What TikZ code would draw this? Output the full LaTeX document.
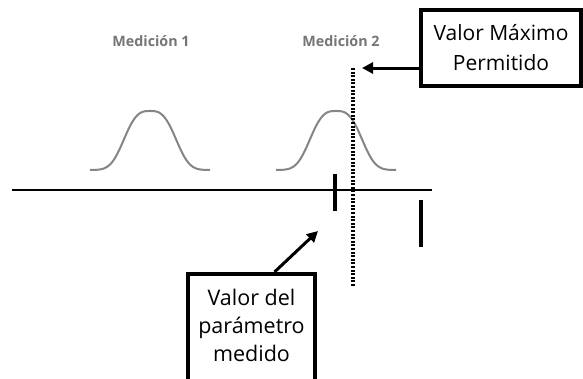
\documentclass[tikz,border=0pt]{standalone}
\usepackage{fontspec}
\setmainfont{Open Sans}
\usetikzlibrary{arrows.meta}
\definecolor{curvegray}{HTML}{858585}
\definecolor{labelgray}{HTML}{757575}
\begin{document}
\begin{tikzpicture}[x=1pt,y=-1pt,
  box/.style={draw=black,line width=3.5pt,fill=white,align=center,inner sep=0pt,
    font=\fontsize{21}{30}\selectfont},
  meas/.style={text=labelgray,font=\bfseries\fontsize{14.3}{16}\selectfont},
  bell/.style={draw=curvegray,line width=2pt},
  callout/.style={line width=3pt,-{Triangle[length=11pt,width=11pt]}},
  tick/.style={line width=4pt},
  limit/.style={line width=4pt,dash pattern=on 2pt off 1.6pt}]
\clip (0,0) rectangle (583,378);
\fill[white] (0,0) rectangle (583,378);
% labels
\node[meas] (m1) at (151,41) {Medición 1};
\node[meas] (m2) at (341,41) {Medición 2};
% bell curves
\draw[bell] plot[domain=-60:60,samples=80,smooth] ({150+\x},{170-59*exp(-(abs(\x)/30)^3)});
\draw[bell] plot[domain=-60:60,samples=80,smooth] ({336+\x},{170-59*exp(-(abs(\x)/30)^3)});
% axis
\coordinate (axL) at (12,190);
\coordinate (axR) at (432,190);
\draw[line width=1.2pt] (axL) -- (axR);
% ticks
\coordinate (t1a) at (335,174);
\coordinate (t1b) at (335,211);
\draw[tick] (t1a) -- (t1b);
\coordinate (t2a) at (421,200);
\coordinate (t2b) at (421,247);
\draw[tick,line width=4.5pt] (t2a) -- (t2b);
% limit line
\coordinate (limT) at (353,68);
\coordinate (limB) at (353,286);
\draw[limit] (limT) -- (limB);
% boxes
\node[box,minimum width=160pt,minimum height=76pt] (vmax) at (501,48) {Valor Máximo\\Permitido};
\node[box,minimum width=127pt,minimum height=120pt,anchor=north] (vmed) at (251.5,272) {};
\node[font=\fontsize{21.5}{28}\selectfont,align=center] (vmedtxt) at (251.5,325) {Valor del\\parámetro\\medido};
% arrows
\coordinate (tipA) at (362,68);
\draw[callout] (vmax.west |- tipA) -- (tipA);
\coordinate (tipB) at (318,231);
\draw[callout] ([xshift=23pt]vmed.north) -- (tipB);
\end{tikzpicture}
\end{document}
